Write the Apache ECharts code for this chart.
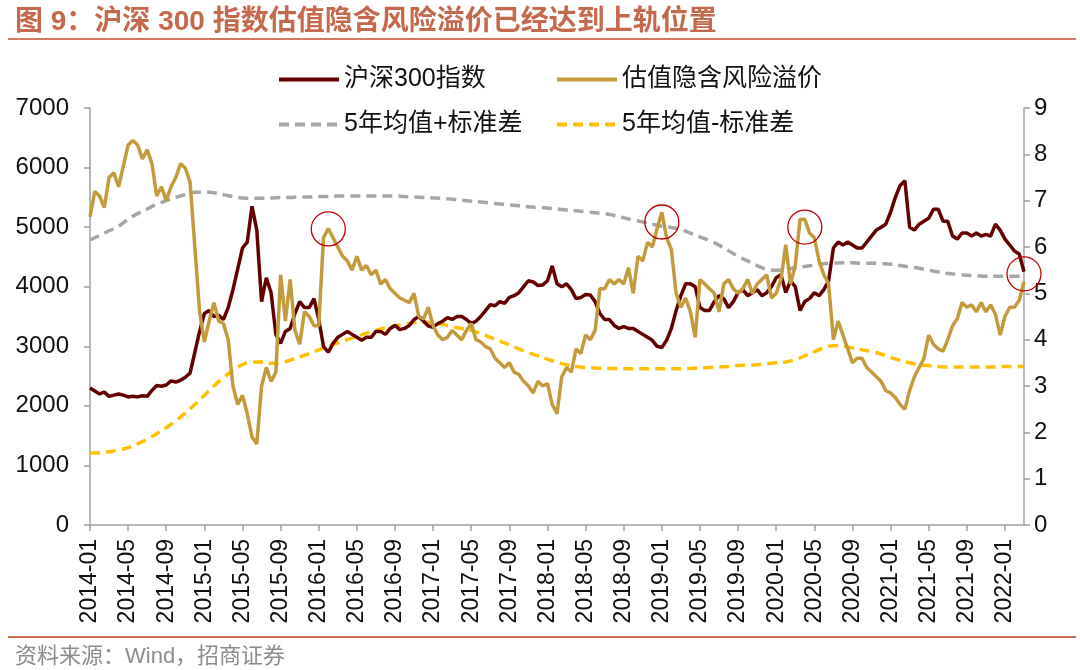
<!DOCTYPE html>
<html>
<head>
<meta charset="utf-8">
<script src="https://cdn.jsdelivr.net/npm/echarts@6/dist/echarts.min.js"></script>
<style>
  html, body { margin: 0; padding: 0; background: #fff; }
  #chart { width: 1080px; height: 670px; }
</style>
</head>
<body>
<div id="chart"></div>
<script>
// half-month buckets, 2014-01-01 .. 2022-03-01
var dates = [];
for (var y = 2014; y <= 2022; y++) {
  for (var m = 1; m <= 12; m++) {
    var mm = (m < 10 ? '0' : '') + m;
    dates.push(y + '-' + mm + '-01');
    dates.push(y + '-' + mm + '-16');
  }
}
dates = dates.slice(0, 197);

// 沪深300指数 (left axis), two readings per month
var csi300 = [
  2300, 2250, 2200, 2230, 2160, 2180, 2200, 2180, 2150, 2160, 2150, 2170,
  2160, 2260, 2340, 2330, 2350, 2420, 2400, 2430, 2480, 2550, 2900, 3250,
  3550, 3600, 3500, 3520, 3450, 3650, 3950, 4300, 4650, 4750, 5350, 4950,
  3750, 4150, 3900, 3200, 3050, 3250, 3300, 3550, 3750, 3650, 3650, 3800,
  3450, 3000, 2900, 3050, 3150, 3200, 3250, 3200, 3150, 3100, 3150, 3150,
  3250, 3250, 3200, 3300, 3350, 3280, 3300, 3350, 3450, 3500, 3420, 3340,
  3320, 3380, 3420, 3480, 3450, 3500, 3500, 3450, 3380, 3420, 3500, 3600,
  3700, 3680, 3750, 3720, 3820, 3850, 3900, 4000, 4100, 4080, 4020, 4030,
  4100, 4350, 4050, 4000, 4050, 3950, 3800, 3820, 3870, 3860, 3750, 3550,
  3450, 3450, 3350, 3300, 3330, 3300, 3300, 3250, 3200, 3150, 3100, 3000,
  2980, 3100, 3300, 3600, 3850, 4050, 4050, 4000, 3650, 3600, 3600, 3750,
  3850, 3800, 3650, 3750, 3900, 3950, 3850, 3900, 3950, 3850, 3900, 4000,
  4150, 4200, 3900, 4100, 4000, 3600, 3750, 3800, 3900, 3850, 3950, 4100,
  4650, 4750, 4700, 4750, 4700, 4650, 4650, 4750, 4850, 4950, 5000, 5050,
  5250, 5500, 5700, 5780, 5000, 4950, 5050, 5100, 5150, 5300, 5300, 5100,
  5100, 4850, 4800, 4900, 4900, 4850, 4900, 4850, 4880, 4850, 5050, 4950,
  4800, 4700, 4600, 4550, 4250
];

// 估值隐含风险溢价 (right axis), two readings per month
var erp = [
  6.65, 7.2, 7.1, 6.85, 7.5, 7.6, 7.3, 7.75, 8.2, 8.3, 8.2, 7.9,
  8.1, 7.8, 7.1, 7.3, 7.0, 7.3, 7.5, 7.8, 7.7, 7.4, 6.0, 4.6,
  3.95, 4.4, 4.8, 4.4, 4.35, 4.0, 3.0, 2.6, 2.8, 2.4, 1.9, 1.75,
  3.0, 3.4, 3.1, 3.3, 5.4, 4.4, 5.3, 4.2, 3.9, 4.6, 4.5, 4.3,
  4.3, 6.2, 6.4, 6.2, 6.0, 5.8, 5.7, 5.5, 5.8, 5.5, 5.6, 5.4,
  5.5, 5.2, 5.3, 5.1, 5.0, 4.9, 4.85, 4.8, 5.0, 4.5, 4.45, 4.7,
  4.3, 4.1, 4.0, 4.05, 4.2, 4.1, 4.0, 4.2, 4.35, 4.0, 3.95, 3.85,
  3.8, 3.6, 3.5, 3.4, 3.5, 3.3, 3.25, 3.1, 3.0, 2.85, 3.1, 3.0,
  3.05, 2.6, 2.4, 3.2, 3.4, 3.3, 3.8, 3.7, 4.1, 4.0, 4.2, 5.1,
  5.1, 5.3, 5.2, 5.3, 5.2, 5.55, 5.0, 5.8, 5.7, 6.1, 6.0, 6.4,
  6.75, 6.2, 5.95, 5.0, 4.7, 4.9, 4.6, 4.05, 5.3, 5.2, 5.1, 5.0,
  4.6, 5.2, 5.3, 5.1, 5.0, 5.1, 5.3, 5.0, 5.2, 5.3, 5.4, 4.9,
  5.0, 5.3, 6.05, 5.2, 5.6, 6.6, 6.6, 6.3, 6.2, 5.7, 5.4, 5.2,
  4.0, 4.4, 4.1, 3.8, 3.5, 3.6, 3.6, 3.4, 3.3, 3.2, 3.1, 2.9,
  2.85, 2.75, 2.6, 2.5, 2.9, 3.2, 3.4, 3.6, 4.1, 3.9, 3.8, 3.75,
  4.0, 4.3, 4.45, 4.8, 4.7, 4.75, 4.6, 4.8, 4.6, 4.75, 4.55, 4.1,
  4.5, 4.7, 4.7, 4.85, 5.25
];

// 5年均值+标准差, one reading per month
var upperBand = [
  6.15, 6.25, 6.35, 6.45, 6.6, 6.72, 6.82, 6.92, 7.0, 7.07, 7.13, 7.18,
  7.19, 7.17, 7.13, 7.09, 7.06, 7.05, 7.05, 7.06, 7.07, 7.07, 7.08, 7.08,
  7.09, 7.09, 7.1, 7.1, 7.1, 7.1, 7.1, 7.1, 7.1, 7.09, 7.08, 7.07,
  7.06, 7.05, 7.03, 7.01, 6.99, 6.97, 6.95, 6.93, 6.91, 6.89, 6.87, 6.85,
  6.84, 6.82, 6.8, 6.78, 6.76, 6.74, 6.72, 6.68, 6.63, 6.58, 6.54, 6.49,
  6.45, 6.42, 6.37, 6.3, 6.22, 6.14, 6.04, 5.92, 5.8, 5.7, 5.6, 5.52,
  5.5, 5.52, 5.55, 5.58, 5.61, 5.64, 5.65, 5.66, 5.66, 5.65, 5.65, 5.64,
  5.63, 5.6, 5.57, 5.54, 5.5, 5.46, 5.43, 5.41, 5.39, 5.38, 5.37, 5.37,
  5.37, 5.37, 5.37
];

// 5年均值-标准差, one reading per month
var lowerBand = [
  1.55, 1.56, 1.58, 1.62, 1.67, 1.75, 1.85, 1.97, 2.1, 2.25, 2.42, 2.6,
  2.8, 3.0, 3.18, 3.34, 3.46, 3.52, 3.52, 3.49, 3.5, 3.56, 3.63, 3.7,
  3.78, 3.86, 3.93, 4.0, 4.07, 4.14, 4.2, 4.26, 4.3, 4.34, 4.37, 4.38,
  4.37, 4.33, 4.28, 4.24, 4.2, 4.13, 4.05, 3.97, 3.89, 3.8, 3.72, 3.65,
  3.58, 3.51, 3.46, 3.42, 3.4, 3.39, 3.38, 3.38, 3.37, 3.37, 3.37, 3.37,
  3.37, 3.37, 3.37, 3.38, 3.39, 3.4, 3.41, 3.42, 3.44, 3.45, 3.46, 3.48,
  3.5, 3.52, 3.57, 3.65, 3.74, 3.82, 3.87, 3.86, 3.82, 3.78, 3.74, 3.69,
  3.62, 3.55, 3.5, 3.46, 3.44, 3.42, 3.41, 3.41, 3.41, 3.41, 3.41, 3.41,
  3.42, 3.42, 3.42
];

// circled points on the premium line: [half-month index, value]
var circled = [[50, 6.39], [120, 6.54], [150, 6.43], [196, 5.42]];

var FONT = "'Liberation Sans', 'Noto Sans CJK SC', sans-serif";
var AXIS_GREY = '#A0A0A0';

function monthly(arr) {
  return arr.map(function (v, m) { return [dates[2 * m], v]; });
}

var chart = echarts.init(document.getElementById('chart'));

var legendBase = {
  itemWidth: 60,
  itemHeight: 14,
  itemStyle: { opacity: 0 },
  lineStyle: { width: 4 },
  textStyle: { fontSize: 25, color: '#111', fontFamily: FONT }
};

var option = {
  animation: false,
  backgroundColor: '#fff',
  title: [
    {
      text: '图 9：沪深 300 指数估值隐含风险溢价已经达到上轨位置',
      left: 10, top: 3,
      textStyle: { fontSize: 28, fontWeight: 'bold', color: '#C4694D', fontFamily: FONT }
    },
    {
      text: '资料来源：Wind，招商证券',
      left: 10, top: 641,
      textStyle: { fontSize: 22, fontWeight: 'normal', color: '#8C8C8C', fontFamily: FONT }
    }
  ],
  graphic: [
    { type: 'line', shape: { x1: 8, y1: 39, x2: 1076, y2: 39 }, style: { stroke: '#D27862', lineWidth: 2 } },
    { type: 'line', shape: { x1: 8, y1: 637, x2: 1076, y2: 637 }, style: { stroke: '#C8704F', lineWidth: 2 } }
  ],
  legend: [
    Object.assign({ data: ['沪深300指数'], left: 272, top: 62 }, legendBase),
    Object.assign({ data: ['估值隐含风险溢价'], left: 550, top: 62 }, legendBase),
    Object.assign({ data: ['5年均值+标准差'], left: 272, top: 107 }, legendBase),
    Object.assign({ data: ['5年均值-标准差'], left: 550, top: 107 }, legendBase)
  ],
  grid: { left: 90, right: 56, top: 108, bottom: 145 },
  xAxis: {
    type: 'category',
    data: dates,
    boundaryGap: false,
    axisLine: { lineStyle: { color: AXIS_GREY, width: 1.5 } },
    axisTick: {
      interval: function (i) { return i % 8 === 0; },
      length: 6,
      lineStyle: { color: AXIS_GREY, width: 1.5 }
    },
    axisLabel: {
      interval: function (i) { return i % 8 === 0; },
      rotate: 90,
      margin: 14,
      fontSize: 23,
      color: '#111',
      fontFamily: FONT,
      formatter: function (v) { return v.slice(0, 7); }
    },
    splitLine: { show: false }
  },
  yAxis: [
    {
      type: 'value',
      min: 0, max: 7000, interval: 1000,
      axisLine: { show: true, lineStyle: { color: AXIS_GREY, width: 1.5 } },
      axisTick: { show: true, length: 6, lineStyle: { color: AXIS_GREY, width: 1.5 } },
      axisLabel: {
        fontSize: 24, color: '#111', fontFamily: FONT, margin: 21,
        formatter: function (v) { return String(v); }
      },
      splitLine: { show: false }
    },
    {
      type: 'value',
      min: 0, max: 9, interval: 1,
      position: 'right',
      axisLine: { show: true, lineStyle: { color: AXIS_GREY, width: 1.5 } },
      axisTick: { show: true, length: 6, lineStyle: { color: AXIS_GREY, width: 1.5 } },
      axisLabel: { fontSize: 24, color: '#111', fontFamily: FONT, margin: 10 },
      splitLine: { show: false }
    }
  ],
  series: [
    {
      name: '5年均值+标准差',
      type: 'line',
      yAxisIndex: 1,
      data: monthly(upperBand),
      smooth: true,
      symbol: 'none',
      color: '#A6A6A6',
      lineStyle: { color: '#A6A6A6', width: 3.5, type: [10, 6] }
    },
    {
      name: '5年均值-标准差',
      type: 'line',
      yAxisIndex: 1,
      data: monthly(lowerBand),
      smooth: true,
      symbol: 'none',
      color: '#FFC000',
      lineStyle: { color: '#FFC000', width: 3.5, type: [10, 6] }
    },
    {
      name: '沪深300指数',
      type: 'line',
      yAxisIndex: 0,
      data: csi300,
      symbol: 'none',
      color: '#650000',
      lineStyle: { color: '#650000', width: 3.5 }
    },
    {
      name: '估值隐含风险溢价',
      type: 'line',
      yAxisIndex: 1,
      data: erp,
      symbol: 'none',
      color: '#C39B3C',
      lineStyle: { color: '#C39B3C', width: 3.5 },
      markPoint: {
        symbol: 'circle',
        symbolSize: 34,
        label: { show: false },
        itemStyle: { color: 'rgba(0,0,0,0)', borderColor: '#C00000', borderWidth: 1.3 },
        data: circled.map(function (c) { return { coord: [dates[c[0]], c[1]] }; })
      }
    }
  ]
};

chart.setOption(option);
</script>
</body>
</html>
